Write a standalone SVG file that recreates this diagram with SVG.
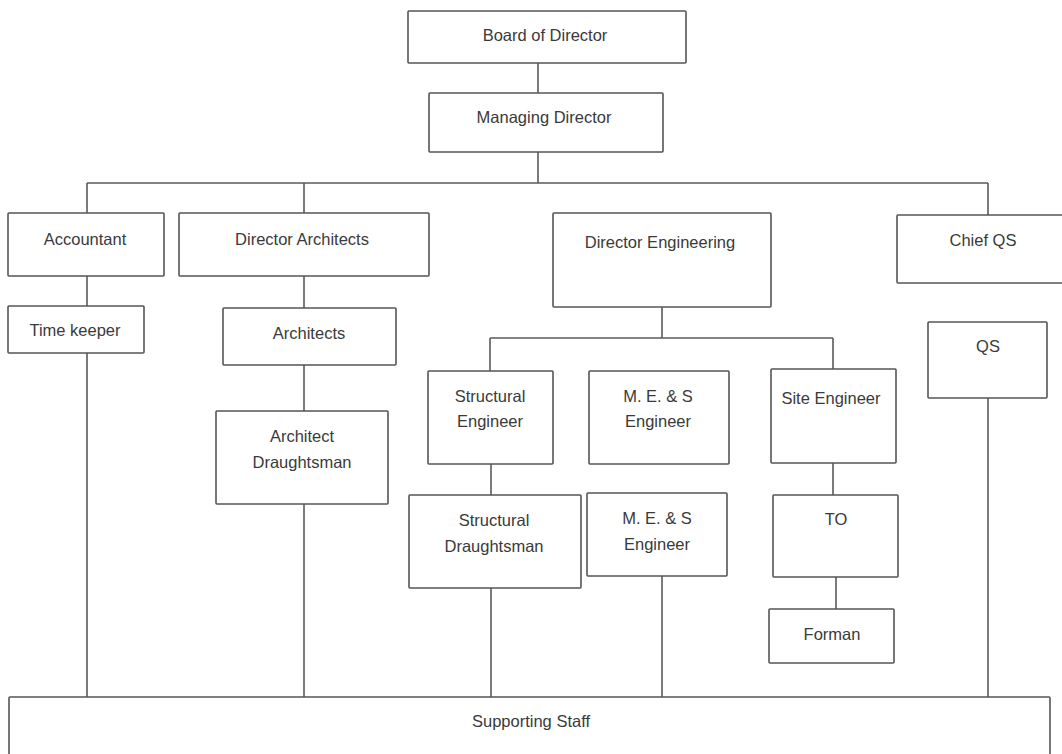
<svg xmlns="http://www.w3.org/2000/svg" width="1062" height="754" viewBox="0 0 1062 754">
  <style>
    .box { fill: #ffffff; stroke: #555555; stroke-width: 1.6; }
    .lbl { font-family: "Liberation Sans", Arial, sans-serif; font-size: 16.5px; fill: #3a3a3a; text-anchor: middle; dominant-baseline: central; }
    .wire { fill: none; stroke: #5a5a5a; stroke-width: 1.6; }
  </style>
  <rect width="1062" height="754" fill="#ffffff"/>

  <!-- connectors -->
  <g id="connectors" class="wire">
    <line x1="538" y1="63" x2="538" y2="93"/>
    <line x1="538" y1="152" x2="538" y2="183"/>
    <line x1="87" y1="183" x2="988" y2="183"/>
    <line x1="87" y1="183" x2="87" y2="213"/>
    <line x1="304" y1="183" x2="304" y2="213"/>
    <line x1="988" y1="183" x2="988" y2="215"/>
    <line x1="87" y1="276" x2="87" y2="306"/>
    <line x1="87" y1="353" x2="87" y2="697"/>
    <line x1="304" y1="276" x2="304" y2="308"/>
    <line x1="304" y1="365" x2="304" y2="411"/>
    <line x1="304" y1="504" x2="304" y2="697"/>
    <line x1="662" y1="307" x2="662" y2="338"/>
    <line x1="490" y1="338" x2="833" y2="338"/>
    <line x1="490" y1="338" x2="490" y2="371"/>
    <line x1="833" y1="338" x2="833" y2="369"/>
    <line x1="491" y1="464" x2="491" y2="495"/>
    <line x1="491" y1="588" x2="491" y2="697"/>
    <line x1="662" y1="576" x2="662" y2="697"/>
    <line x1="833" y1="463" x2="833" y2="495"/>
    <line x1="836" y1="577" x2="836" y2="609"/>
    <line x1="988" y1="398" x2="988" y2="697"/>
  </g>

  <g id="board">
    <rect class="box" x="408" y="11" width="278" height="52" rx="1"/>
    <text class="lbl" x="545" y="35">Board of Director</text>
  </g>
  <g id="managing-director">
    <rect class="box" x="429" y="93" width="234" height="59" rx="1"/>
    <text class="lbl" x="544" y="117">Managing Director</text>
  </g>
  <g id="accountant">
    <rect class="box" x="8" y="213" width="156" height="63" rx="1"/>
    <text class="lbl" x="85" y="239">Accountant</text>
  </g>
  <g id="director-architects">
    <rect class="box" x="179" y="213" width="250" height="63" rx="1"/>
    <text class="lbl" x="302" y="239">Director Architects</text>
  </g>
  <g id="director-engineering">
    <rect class="box" x="553" y="213" width="218" height="94" rx="1"/>
    <text class="lbl" x="660" y="242">Director Engineering</text>
  </g>
  <g id="chief-qs">
    <rect class="box" x="897" y="215" width="172" height="68" rx="1"/>
    <text class="lbl" x="983" y="240">Chief QS</text>
  </g>
  <g id="time-keeper">
    <rect class="box" x="8" y="306" width="136" height="47" rx="1"/>
    <text class="lbl" x="75" y="330">Time keeper</text>
  </g>
  <g id="architects">
    <rect class="box" x="223" y="308" width="173" height="57" rx="1"/>
    <text class="lbl" x="309" y="333">Architects</text>
  </g>
  <g id="architect-draughtsman">
    <rect class="box" x="216" y="411" width="172" height="93" rx="1"/>
    <text class="lbl" x="302" y="436">Architect</text>
    <text class="lbl" x="302" y="462">Draughtsman</text>
  </g>
  <g id="qs">
    <rect class="box" x="928" y="322" width="119" height="76" rx="1"/>
    <text class="lbl" x="988" y="346">QS</text>
  </g>
  <g id="structural-engineer">
    <rect class="box" x="428" y="371" width="125" height="93" rx="1"/>
    <text class="lbl" x="490" y="396">Structural</text>
    <text class="lbl" x="490" y="421">Engineer</text>
  </g>
  <g id="mes-engineer-1">
    <rect class="box" x="589" y="371" width="140" height="93" rx="1"/>
    <text class="lbl" x="658" y="396">M. E. &amp; S</text>
    <text class="lbl" x="658" y="421">Engineer</text>
  </g>
  <g id="site-engineer">
    <rect class="box" x="771" y="369" width="125" height="94" rx="1"/>
    <text class="lbl" x="831" y="398">Site Engineer</text>
  </g>
  <g id="structural-draughtsman">
    <rect class="box" x="409" y="495" width="172" height="93" rx="1"/>
    <text class="lbl" x="494" y="520">Structural</text>
    <text class="lbl" x="494" y="546">Draughtsman</text>
  </g>
  <g id="mes-engineer-2">
    <rect class="box" x="587" y="493" width="140" height="83" rx="1"/>
    <text class="lbl" x="657" y="518">M. E. &amp; S</text>
    <text class="lbl" x="657" y="544">Engineer</text>
  </g>
  <g id="to">
    <rect class="box" x="773" y="495" width="125" height="82" rx="1"/>
    <text class="lbl" x="836" y="519">TO</text>
  </g>
  <g id="forman">
    <rect class="box" x="769" y="609" width="125" height="54" rx="1"/>
    <text class="lbl" x="832" y="634">Forman</text>
  </g>
  <g id="supporting-staff">
    <rect class="box" x="9" y="697" width="1041" height="70" rx="1"/>
    <text class="lbl" x="531" y="721">Supporting Staff</text>
  </g>
</svg>
